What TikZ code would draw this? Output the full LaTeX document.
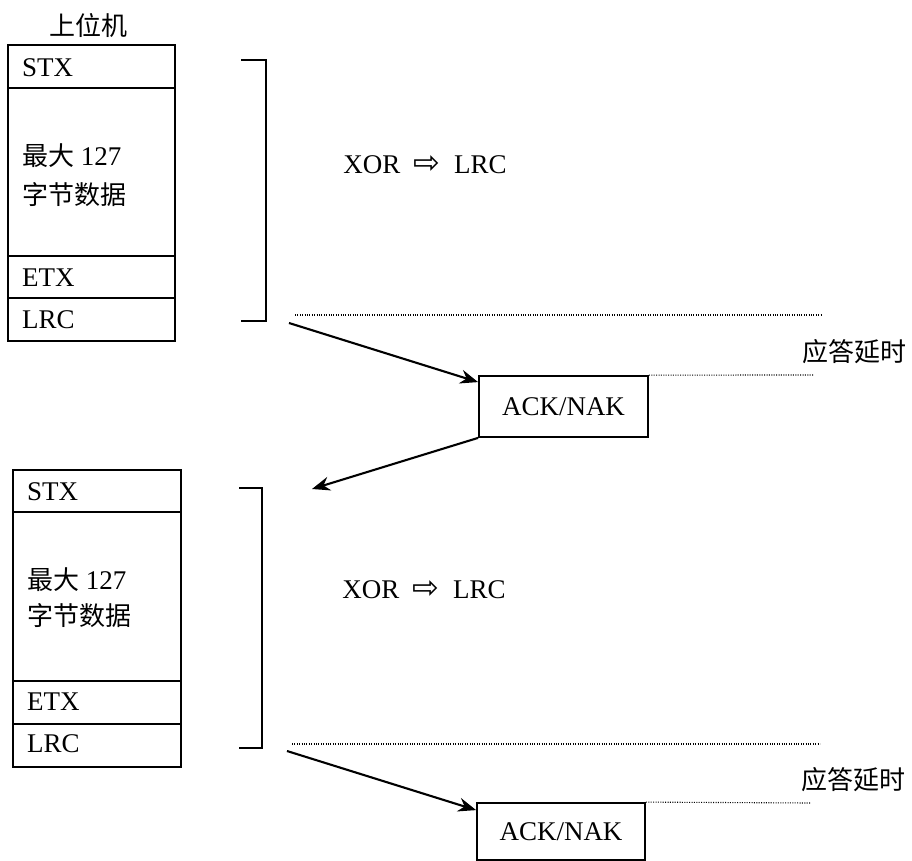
\documentclass[tikz,border=0pt]{standalone}
\usepackage{fontspec}
\setmainfont{Liberation Serif}
\newfontfamily\cjk{Noto Sans CJK SC}
\newfontfamily\symf{DejaVu Sans}
\usetikzlibrary{arrows.meta}
\begin{document}
\begin{tikzpicture}[x=1pt,y=-1pt,
  frame/.style={draw=black,line width=1.8pt},
  brk/.style={draw=black,line width=1.5pt},
  lbl/.style={anchor=west,inner sep=0pt,font=\fontsize{27}{30}\selectfont},
  cjklbl/.style={inner sep=0pt,font=\fontsize{26}{30}\selectfont\cjk},
  xor/.style={inner sep=0pt,font=\fontsize{27}{30}\selectfont},
  ackbox/.style={draw=black,line width=1.8pt,inner sep=0pt,font=\fontsize{27}{30}\selectfont},
  dots/.style={draw=black,line width=1.1pt,dash pattern=on 1pt off 1.4pt},
  arr/.style={draw=black,line width=2.1pt,-{Stealth[length=18pt,width=14pt,inset=6pt]}}]
\useasboundingbox (0,0) rectangle (912,861);

% ---------- first frame ----------
\node[cjklbl] (host) at (88,26) {上位机};
\draw[frame] (8,45) rectangle (175,341);
\draw[frame] (8,88) -- (175,88);
\draw[frame] (8,256) -- (175,256);
\draw[frame] (8,298) -- (175,298);
\node[lbl] (stxa) at (22,68) {STX};
\node[lbl] (maxa) at (22,156) {{\fontsize{26}{30}\selectfont\cjk 最大} 127};
\node[lbl] (dataa) at (22,195) {{\fontsize{26}{30}\selectfont\cjk 字节数据}};
\node[lbl] (etxa) at (22,278) {ETX};
\node[lbl] (lrca) at (22,320) {LRC};
\draw[brk] (241,60) -- (266,60) -- (266,321) -- (241,321);
\node[xor] (xora) at (425,165) {XOR\ \ {\symf\fontsize{32}{30}\selectfont ⇨}\ \ LRC};

\coordinate (doa) at (295,315);
\coordinate (dob) at (822,315);
\draw[dots] (doa) -- (dob);
\node[ackbox,minimum width=169pt,minimum height=61pt] (acka) at (563.5,406.5) {ACK/NAK};
\coordinate (dra) at (813,375);
\draw[dots] (acka.north east) -- (dra);
\node[cjklbl] (dela) at (854.5,352) {应答延时};
\coordinate (sa) at (289,323);
\draw[arr] (sa) -- ([yshift=-7pt]acka.north west);
\coordinate (ea) at (312,489);
\draw[arr] (acka.south west) -- (ea);

% ---------- second frame ----------
\draw[frame] (13,470) rectangle (181,767);
\draw[frame] (13,512) -- (181,512);
\draw[frame] (13,681) -- (181,681);
\draw[frame] (13,724) -- (181,724);
\node[lbl] (stxb) at (27,492) {STX};
\node[lbl] (maxb) at (27,580) {{\fontsize{26}{30}\selectfont\cjk 最大} 127};
\node[lbl] (datab) at (27,616) {{\fontsize{26}{30}\selectfont\cjk 字节数据}};
\node[lbl] (etxb) at (27,702) {ETX};
\node[lbl] (lrcb) at (27,744) {LRC};
\draw[brk] (239,488) -- (262,488) -- (262,748) -- (239,748);
\node[xor] (xorb) at (424,590) {XOR\ \ {\symf\fontsize{32}{30}\selectfont ⇨}\ \ LRC};

\coordinate (dpa) at (292,744);
\coordinate (dpb) at (820,744);
\draw[dots] (dpa) -- (dpb);
\node[ackbox,minimum width=168pt,minimum height=57pt] (ackb) at (561,831.5) {ACK/NAK};
\coordinate (drb) at (810,803);
\draw[dots] (ackb.north east) -- (drb);
\node[cjklbl] (delb) at (853.5,780) {应答延时};
\coordinate (sb) at (287,751);
\draw[arr] (sb) -- ([yshift=-8pt]ackb.north west);
\end{tikzpicture}
\end{document}
